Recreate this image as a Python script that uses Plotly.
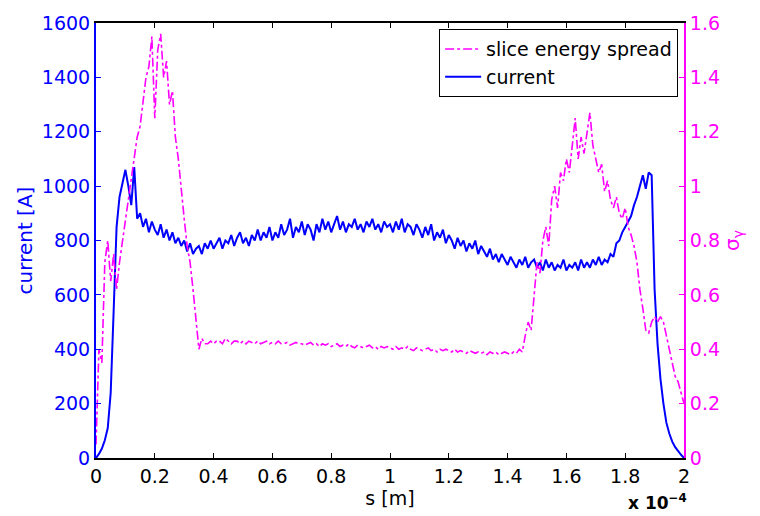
import plotly.graph_objects as go

# s positions in units of 1e-4 m (sampling grid, step 0.01)
s_vals = [round(i * 0.01, 2) for i in range(201)]

current_A = [
    0, 15, 35, 65, 110, 240, 540, 850, 960, 1010,          # 0.00-0.09
    1060, 1000, 930, 1070, 880, 900, 850, 880, 830, 870,   # 0.10-0.19
    840, 820, 860, 810, 840, 800, 830, 790, 810, 780,      # 0.20-0.29
    800, 760, 790, 750, 770, 780, 750, 790, 770, 800,      # 0.30-0.39
    770, 790, 810, 770, 800, 790, 820, 780, 810, 830,      # 0.40-0.49
    790, 810, 780, 820, 800, 840, 800, 830, 810, 850,      # 0.50-0.59
    800, 830, 810, 860, 820, 840, 880, 810, 850, 830,      # 0.60-0.69
    870, 820, 860, 840, 800, 860, 830, 880, 840, 870,      # 0.70-0.79
    830, 860, 890, 840, 870, 830, 860, 850, 880, 840,      # 0.80-0.89
    860, 830, 870, 850, 880, 840, 860, 830, 870, 850,      # 0.90-0.99
    860, 830, 870, 840, 880, 830, 860, 850, 820, 860,      # 1.00-1.09
    840, 810, 850, 820, 860, 800, 830, 810, 840, 790,      # 1.10-1.19
    820, 800, 770, 810, 780, 800, 760, 790, 770, 800,      # 1.20-1.29
    750, 780, 760, 740, 770, 730, 750, 720, 750, 730,      # 1.30-1.39
    710, 740, 720, 700, 730, 710, 740, 700, 720, 730,      # 1.40-1.49
    700, 720, 690, 730, 700, 720, 690, 710, 700, 730,      # 1.50-1.59
    690, 710, 700, 720, 690, 730, 700, 720, 700, 730,      # 1.60-1.69
    710, 740, 710, 730, 720, 750, 740, 790, 800, 830,      # 1.70-1.79
    850, 870, 890, 930, 960, 1000, 1040, 990, 1050, 1040,  # 1.80-1.89
    620, 420, 290, 200, 130, 90, 60, 40, 25, 12,           # 1.90-1.99
    0,                                                     # 2.00
]

energy_spread = [
    0.05, 0.40, 0.35, 0.72, 0.80, 0.65, 0.75, 0.62, 0.72, 0.80,   # 0.00-0.09
    0.88, 0.95, 1.02, 1.10, 1.18, 1.22, 1.30, 1.40, 1.44, 1.55,   # 0.10-0.19
    1.25, 1.50, 1.56, 1.40, 1.46, 1.30, 1.35, 1.18, 1.10, 0.98,   # 0.20-0.29
    0.88, 0.78, 0.72, 0.62, 0.52, 0.40, 0.44, 0.42, 0.42, 0.43,   # 0.30-0.39
    0.42, 0.43, 0.43, 0.42, 0.44, 0.43, 0.42, 0.43, 0.43, 0.42,   # 0.40-0.49
    0.43, 0.42, 0.43, 0.425, 0.42, 0.43, 0.42, 0.425, 0.43, 0.42, # 0.50-0.59
    0.425, 0.42, 0.43, 0.42, 0.42, 0.425, 0.415, 0.42, 0.425, 0.42,  # 0.60-0.69
    0.42, 0.415, 0.42, 0.425, 0.415, 0.42, 0.41, 0.42, 0.415, 0.42,  # 0.70-0.79
    0.41, 0.415, 0.42, 0.41, 0.415, 0.41, 0.42, 0.41, 0.405, 0.415,  # 0.80-0.89
    0.41, 0.405, 0.41, 0.415, 0.405, 0.41, 0.40, 0.41, 0.405, 0.41,  # 0.90-0.99
    0.405, 0.40, 0.41, 0.40, 0.405, 0.40, 0.41, 0.40, 0.395, 0.405,  # 1.00-1.09
    0.40, 0.395, 0.40, 0.405, 0.395, 0.40, 0.39, 0.40, 0.395, 0.40,  # 1.10-1.19
    0.395, 0.39, 0.40, 0.39, 0.395, 0.39, 0.385, 0.395, 0.39, 0.385, # 1.20-1.29
    0.39, 0.385, 0.39, 0.38, 0.39, 0.385, 0.39, 0.38, 0.385, 0.39,   # 1.30-1.39
    0.385, 0.38, 0.39, 0.385, 0.40, 0.39, 0.45, 0.50, 0.47, 0.60,    # 1.40-1.49
    0.72, 0.68, 0.80, 0.85, 0.78, 0.95, 1.00, 0.92, 1.05, 1.02,      # 1.50-1.59
    1.10, 1.05, 1.15, 1.25, 1.10, 1.18, 1.12, 1.20, 1.27, 1.15,      # 1.60-1.69
    1.10, 1.05, 1.08, 0.98, 1.02, 0.95, 0.92, 0.96, 0.90, 0.88,      # 1.70-1.79
    0.92, 0.85, 0.82, 0.78, 0.72, 0.62, 0.55, 0.47, 0.46, 0.50,      # 1.80-1.89
    0.52, 0.50, 0.52, 0.50, 0.45, 0.40, 0.35, 0.30, 0.28, 0.24,      # 1.90-1.99
    0.20,                                                            # 2.00
]

x_ticks = [0, 0.2, 0.4, 0.6, 0.8, 1.0, 1.2, 1.4, 1.6, 1.8, 2.0]
x_tick_text = ["0", "0.2", "0.4", "0.6", "0.8", "1", "1.2", "1.4", "1.6", "1.8", "2"]
y1_ticks = [0, 200, 400, 600, 800, 1000, 1200, 1400, 1600]
y2_ticks = [0, 0.2, 0.4, 0.6, 0.8, 1.0, 1.2, 1.4, 1.6]
y2_tick_text = ["0", "0.2", "0.4", "0.6", "0.8", "1", "1.2", "1.4", "1.6"]

BLUE = "#0000ff"
MAGENTA = "#ff00ff"
FONT = "DejaVu Sans, Arial, sans-serif"

fig = go.Figure()
fig.add_trace(go.Scatter(
    x=s_vals, y=energy_spread, yaxis="y2", mode="lines",
    name="slice energy spread",
    line=dict(color=MAGENTA, width=1.6, dash="dashdot"),
))
fig.add_trace(go.Scatter(
    x=s_vals, y=current_A, yaxis="y", mode="lines",
    name="current",
    line=dict(color=BLUE, width=2),
))

fig.update_layout(
    width=760, height=516,
    margin=dict(l=96, r=76, t=20, b=58),
    paper_bgcolor="white", plot_bgcolor="white",
    font=dict(family=FONT, size=18, color="black"),
    showlegend=True,
    legend=dict(
        x=0.99, y=0.986, xanchor="right", yanchor="top",
        bgcolor="white", bordercolor="black", borderwidth=1,
        font=dict(family=FONT, size=19, color="black"),
        tracegroupgap=0, itemwidth=36,
    ),
    xaxis=dict(
        range=[0, 2], tickvals=x_ticks, ticktext=x_tick_text,
        showgrid=False, zeroline=False,
        showline=True, linecolor="black", linewidth=2, mirror="ticks",
        ticks="inside", ticklen=5, tickcolor="black", tickwidth=1,
        tickfont=dict(family=FONT, size=19, color="black"),
        title=dict(text="s [m]", font=dict(family=FONT, size=19, color="black"), standoff=0),
    ),
    yaxis=dict(
        range=[0, 1600], tickvals=y1_ticks,
        showgrid=False, zeroline=False,
        showline=True, linecolor=BLUE, linewidth=2,
        ticks="inside", ticklen=5, tickcolor=BLUE, tickwidth=1,
        tickfont=dict(family=FONT, size=19, color=BLUE),
        title=dict(text="current [A]", font=dict(family=FONT, size=20, color=BLUE), standoff=4),
    ),
    yaxis2=dict(
        range=[0, 1.6], tickvals=y2_ticks, ticktext=y2_tick_text,
        overlaying="y", side="right",
        showgrid=False, zeroline=False,
        showline=True, linecolor=MAGENTA, linewidth=2,
        ticks="inside", ticklen=5, tickcolor=MAGENTA, tickwidth=1,
        tickfont=dict(family=FONT, size=19, color=MAGENTA),
        title=dict(text="σ<sub>γ</sub>", font=dict(family=FONT, size=20, color=MAGENTA), standoff=6),
    ),
    annotations=[dict(
        text="<b>x 10<sup>−4</sup></b>", xref="paper", yref="paper",
        x=1.008, y=-0.072, xanchor="right", yanchor="top", showarrow=False,
        font=dict(family=FONT, size=17, color="black"),
    )],
)

fig.write_html("out.html")
